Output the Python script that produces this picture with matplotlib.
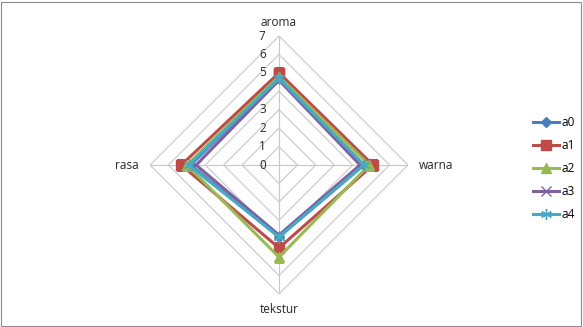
import numpy as np
import matplotlib
matplotlib.use("Agg")
import matplotlib.pyplot as plt
from matplotlib.patches import Rectangle

# ─── Data ────────────────────────────────────────────────────────────────────
categories = ["aroma", "warna", "tekstur", "rasa"]
series_names = ["a0", "a1", "a2", "a3", "a4"]
a0 = [4.7, 4.6, 3.9, 4.8]
a1 = [5.0, 5.1, 4.5, 5.3]
a2 = [4.8, 4.9, 5.0, 5.0]
a3 = [4.6, 4.4, 3.8, 4.5]
a4 = [4.7, 4.6, 3.9, 4.9]
rticks = [0, 1, 2, 3, 4, 5, 6, 7]

colors = ["#4A7EBB", "#BE4B48", "#98B954", "#7D60A0", "#46AAC5"]
markers = ["D", "s", "^", "x", (6, 2, 0)]
msizes = [5, 7, 7, 7, 8]

plt.rcParams["font.family"] = ["Open Sans", "DejaVu Sans"]

fig = plt.figure(figsize=(5.83, 3.27), dpi=100)
fig.patch.set_facecolor("white")
fig.patches.append(Rectangle((0.002, 0.003), 0.995, 0.992, transform=fig.transFigure,
                             fill=False, edgecolor="#8c8c8c", linewidth=0.8))

ax = fig.add_axes([0.2573, 0.1009, 0.4425, 0.789], projection="polar")
ax.set_theta_direction(-1)
ax.set_theta_offset(np.pi / 2)
ax.set_ylim(0, 7)
ax.grid(False)
ax.spines["polar"].set_visible(False)
ax.set_xticks([])
ax.set_yticks([])
ax.patch.set_alpha(0)

angles = np.linspace(0, 2 * np.pi, len(categories), endpoint=False)
closed = np.append(angles, angles[0])

# polygon grid
for r in rticks[1:]:
    ax.plot(closed, [r] * len(closed), color="#c8c8c8", linewidth=0.8, zorder=1)
for a in angles:
    ax.plot([a, a], [0, rticks[-1]], color="#c8c8c8", linewidth=0.8, zorder=1)

# radial tick labels along aroma axis
for r in rticks:
    ax.annotate(str(r), xy=(0, r), xytext=(-12, 0), textcoords="offset points",
                ha="center", va="center", fontsize=8.5, color="#262626")

# category labels
label_offsets = {"aroma": (0, 10), "warna": (8, 0), "tekstur": (0, -11), "rasa": (-8, 0)}
label_ha = {"aroma": "center", "warna": "left", "tekstur": "center", "rasa": "right"}
for a, c in zip(angles, categories):
    ax.annotate(c, xy=(a, rticks[-1]), xytext=label_offsets[c], textcoords="offset points",
                ha=label_ha[c], va="center", fontsize=8.5, color="#262626")

handles = []
for name, vals, col, mk, ms in zip(series_names, [a0, a1, a2, a3, a4], colors, markers, msizes):
    v = list(vals) + [vals[0]]
    h, = ax.plot(closed, v, color=col, linewidth=2.2, marker=mk, markersize=ms,
                 markeredgecolor=col, markerfacecolor=col, label=name, zorder=3)
    handles.append(h)

fig.legend(handles=handles, loc="center left", bbox_to_anchor=(0.904, 0.485),
           frameon=False, fontsize=8.5, handlelength=2.2, handletextpad=0.2,
           labelspacing=0.85, borderpad=0)

fig.savefig("out.png", dpi=100)
